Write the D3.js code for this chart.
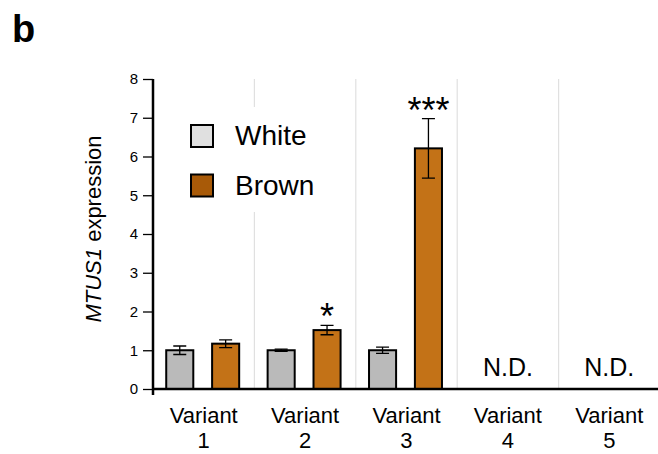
<!DOCTYPE html>
<html>
<head lang="en">
    <meta charset="UTF-8">
    <title></title>
    <script src="https://cdn.jsdelivr.net/npm/d3@7"></script>
    <style>
        body{margin:0;background:#fff;}
        text{font-family:"Liberation Sans",Arial,sans-serif;}
    </style>
</head>
<body>

</body>
</html>
<script>
    var variants=["1","2","3","4","5"];
    var series=["White","Brown"];
    var whiteMean=[1.0,1.0,1.0,null,null];
    var whiteErr=[0.11,0.03,0.08,null,null];
    var brownMean=[1.17,1.52,6.21,null,null];
    var brownErr=[0.1,0.12,0.77,null,null];
    var stars=["","*","***","",""];
    var yTicks=[0,1,2,3,4,5,6,7,8];

    var barFill={White:"#bababa",Brown:"#c37217"};
    var legendFill={White:"#e0e0e0",Brown:"#a85a08"};

    var rows=variants.map(function(v,i){
        return {
            name:v,
            star:stars[i],
            bars:[
                {s:"White",mean:whiteMean[i],err:whiteErr[i]},
                {s:"Brown",mean:brownMean[i],err:brownErr[i]}
            ]
        };
    });

    var _svg=d3.select('body')
            .append('svg')
            .attr('width',658)
            .attr('height',454);

    var x=d3.scaleBand()
            .domain(variants)
            .range([153,660])
            .padding(0);
    var xs=d3.scaleBand()
            .domain(series)
            .range([-1,x.bandwidth()-1])
            .paddingInner(0.41)
            .paddingOuter(0.31);
    var y=d3.scaleLinear()
            .domain([0,8])
            .range([389,79]);

    // panel letter
    _svg.append('text')
            .attr('x',12)
            .attr('y',42)
            .attr('font-size',38)
            .attr('font-weight','bold')
            .text('b');

    // vertical separators
    _svg.selectAll('.sep')
            .data(variants.slice(1))
            .enter()
            .append('line')
            .attr('class','sep')
            .attr('x1',function(d){return x(d);})
            .attr('x2',function(d){return x(d);})
            .attr('y1',y(8))
            .attr('y2',y(0))
            .attr('stroke','#e0e0e0')
            .attr('stroke-width',1.2);

    // y axis
    var _yaxis=_svg.append('g')
            .attr('transform','translate(153,0)')
            .call(d3.axisLeft(y).tickValues(yTicks).tickSize(10).tickPadding(5).tickSizeOuter(0));
    _yaxis.select('.domain').remove();
    _yaxis.selectAll('.tick line').attr('stroke','#000').attr('stroke-width',1.3);
    _yaxis.selectAll('.tick text')
            .attr('font-size',15)
            .attr('font-family','"Liberation Sans",Arial,sans-serif')
            .attr('fill','#000');
    _svg.append('line')
            .attr('x1',153).attr('x2',153)
            .attr('y1',y(8)).attr('y2',y(0)+6)
            .attr('stroke','#000')
            .attr('stroke-width',2.5);

    // y label
    var _ylab=_svg.append('text')
            .attr('transform','translate(100.5,229) rotate(-90)')
            .attr('text-anchor','middle')
            .attr('font-size',22);
    _ylab.append('tspan').attr('font-style','italic').text('MTUS1');
    _ylab.append('tspan').text(' expression');

    // bars
    var _g=_svg.selectAll('.grp')
            .data(rows)
            .enter()
            .append('g')
            .attr('class','grp')
            .attr('transform',function(d){return 'translate('+x(d.name)+',0)';});

    var _bar=_g.selectAll('.bar')
            .data(function(d){return d.bars.filter(function(b){return b.mean!=null;});})
            .enter()
            .append('g')
            .attr('class','bar');
    _bar.append('rect')
            .attr('x',function(d){return xs(d.s);})
            .attr('y',function(d){return y(d.mean);})
            .attr('width',xs.bandwidth())
            .attr('height',function(d){return y(0)-y(d.mean);})
            .attr('fill',function(d){return barFill[d.s];})
            .attr('stroke','#000')
            .attr('stroke-width',2);
    // error bars
    _bar.append('path')
            .attr('d',function(d){
                var cx=xs(d.s)+xs.bandwidth()/2;
                var t=y(d.mean+d.err), b=y(d.mean-d.err), w=6.5;
                return 'M'+cx+','+t+'V'+b+'M'+(cx-w)+','+t+'H'+(cx+w)+'M'+(cx-w)+','+b+'H'+(cx+w);
            })
            .attr('fill','none')
            .attr('stroke','#000')
            .attr('stroke-width',1.3);

    // significance stars
    _g.filter(function(d){return d.star;})
            .append('text')
            .attr('x',function(d){return xs('Brown')+xs.bandwidth()/2;})
            .attr('y',function(d){return y(d.bars[1].mean+d.bars[1].err)+4;})
            .attr('text-anchor','middle')
            .attr('font-size',36)
            .text(function(d){return d.star;});

    // not detected
    _g.filter(function(d){return d.bars[0].mean==null;})
            .append('text')
            .attr('x',x.bandwidth()/2)
            .attr('y',376)
            .attr('text-anchor','middle')
            .attr('font-size',25)
            .text('N.D.');

    // x baseline
    _svg.append('line')
            .attr('x1',152).attr('x2',658)
            .attr('y1',y(0)).attr('y2',y(0))
            .attr('stroke','#000')
            .attr('stroke-width',2.5);

    // x labels
    var _xl=_g.append('text')
            .attr('text-anchor','middle')
            .attr('font-size',22);
    _xl.append('tspan')
            .attr('x',x.bandwidth()/2)
            .attr('y',423)
            .text('Variant');
    _xl.append('tspan')
            .attr('x',x.bandwidth()/2)
            .attr('y',448)
            .text(function(d){return d.name;});

    // legend
    var _leg=_svg.append('g');
    _leg.append('rect')
            .attr('x',182).attr('y',107)
            .attr('width',150).attr('height',105)
            .attr('fill','#fff');
    var _li=_leg.selectAll('.li')
            .data(series)
            .enter()
            .append('g')
            .attr('class','li')
            .attr('transform',function(d,i){return 'translate(191,'+(125+i*49.5)+')';});
    _li.append('rect')
            .attr('width',22)
            .attr('height',22)
            .attr('fill',function(d){return legendFill[d];})
            .attr('stroke','#000')
            .attr('stroke-width',2);
    _li.append('text')
            .attr('x',44)
            .attr('y',20)
            .attr('font-size',28)
            .text(function(d){return d;});
</script>
